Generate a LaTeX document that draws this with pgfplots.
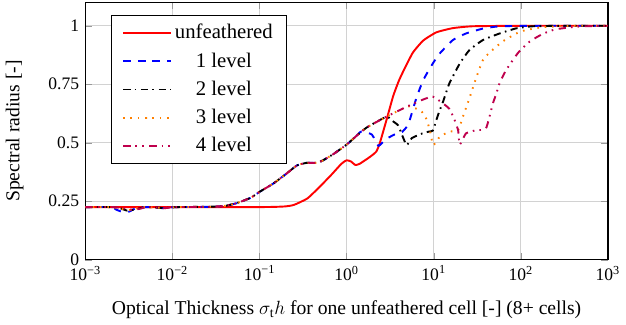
\documentclass[border=0pt]{standalone}
\usepackage{pgfplots}
\pgfplotsset{compat=1.18}
\usepackage{fontspec}
\setmainfont{Liberation Serif}
\definecolor{c4}{rgb}{0.75,0,0.3}
\begin{document}
\fontsize{11}{13}\selectfont
\begin{tikzpicture}
\begin{axis}[
  scale only axis,
  width=327.5pt, height=161.25pt,
  xmode=log, log basis x=10,
  xmin=1e-3, xmax=1e3,
  ymin=0, ymax=1.1,
  xtick={1e-3,1e-2,1e-1,1,1e1,1e2,1e3},
  xticklabels={10\textsuperscript{−3},10\textsuperscript{−2},10\textsuperscript{−1},10\textsuperscript{0},10\textsuperscript{1},10\textsuperscript{2},10\textsuperscript{3}},
  ytick={0,0.25,0.5,0.75,1},
  yticklabels={0,0.25,0.5,0.75,1},
  grid=major,
  major grid style={gray!35, line width=0.6pt},
  tick style={gray!80},
  axis line style={black, line width=0.8pt},
  label style={font=\fontsize{12.3}{14}\selectfont},
  xlabel={Optical Thickness $\sigma_{\mathrm{t}}h$ for one unfeathered cell [-] (8+ cells)},
  ylabel={Spectral radius [-]},
  ylabel shift=8pt,
  xlabel shift=5pt,
  legend cell align=center,
  legend style={at={(0.05,0.95)}, anchor=north west, draw=black, fill=white,
     font=\fontsize{13}{15}\selectfont, row sep=3pt, inner xsep=6.5pt, inner ysep=3.5pt},
  legend image code/.code={\draw[#1] plot coordinates {(0cm,0cm) (0.52cm,0cm) (1.05cm,0cm)};},
  every axis plot/.append style={line width=1.2pt},
  after end axis/.code={\path (rel axis cs:0,1) ++(0,1.5pt);},
]
% unfeathered
\addplot[red, solid, smooth, tension=0.3] coordinates {
(0.001,0.225) (0.1,0.225) (0.2,0.228) (0.251,0.235) (0.355,0.262) (0.501,0.315)
(0.676,0.365) (0.871,0.41) (1,0.425) (1.122,0.42) (1.259,0.405) (1.413,0.41)
(1.862,0.44) (2.188,0.462) (2.399,0.497) (2.884,0.60) (3.428,0.70) (3.981,0.765)
(4.467,0.805) (5.754,0.885) (7.586,0.937) (10.72,0.972) (16.6,0.99) (28.18,0.998)
(100,1.0) (1000,1.0)};
\addlegendentry{unfeathered}
% 1 level
\addplot[blue, dash pattern=on 4.5pt off 4.7pt, smooth, tension=0.3] coordinates {
(0.001,0.225) (0.002,0.225) (0.00224,0.215) (0.00263,0.205) (0.00316,0.205) (0.00355,0.215) (0.00398,0.222)
(0.005,0.225) (0.00708,0.222) (0.00794,0.22) (0.00891,0.222) (0.0112,0.225)
(0.0251,0.226) (0.0398,0.23) (0.055,0.242) (0.0794,0.265) (0.1,0.29) (0.1445,0.326)
(0.204,0.368) (0.269,0.403) (0.347,0.414) (0.457,0.414) (0.537,0.425) (0.708,0.452)
(1,0.492) (1.259,0.525) (1.479,0.548) (1.95,0.535) (2.317,0.487) (2.818,0.515)
(3.548,0.535) (4.169,0.54) (4.571,0.555) (5.129,0.58) (6.31,0.69) (7.586,0.768)
(9.772,0.839) (11.75,0.882) (16.6,0.939) (23.44,0.967) (36.73,0.988) (57.54,0.998)
(158.5,1.0) (1000,1.0)};
\addlegendentry{1 level}
% 2 level
\addplot[black, dash pattern=on 4.5pt off 2.8pt on 1pt off 2.8pt, smooth, tension=0.3] coordinates {
(0.001,0.225) (0.002,0.225) (0.00251,0.22) (0.00302,0.21) (0.0038,0.215) (0.00447,0.222)
(0.005,0.225) (0.00708,0.222) (0.00794,0.22) (0.00891,0.222) (0.0112,0.225)
(0.0251,0.226) (0.0398,0.23) (0.055,0.242) (0.0794,0.265) (0.1,0.29) (0.1445,0.326)
(0.204,0.368) (0.269,0.403) (0.347,0.414) (0.457,0.414) (0.537,0.425) (0.708,0.452)
(1,0.492) (1.259,0.525) (1.698,0.565) (2.884,0.612) (3.162,0.60) (3.89,0.575)
(4.365,0.53) (4.898,0.49) (5.623,0.52) (7.413,0.54) (8.913,0.548) (9.772,0.552)
(10.72,0.597) (11.75,0.64) (12.79,0.675) (15.14,0.754) (19.95,0.839) (25.7,0.896)
(36.73,0.939) (57.02,0.967) (88.51,0.989) (138,0.998) (316.2,1.0) (1000,1.0)};
\addlegendentry{2 level}
% 3 level
\addplot[orange, dash pattern=on 1pt off 3.6pt, smooth, tension=0.3] coordinates {
(0.001,0.225) (0.002,0.225) (0.00251,0.218) (0.00316,0.212) (0.00398,0.22) (0.0045,0.225)
(0.005,0.225) (0.00708,0.222) (0.00794,0.22) (0.00891,0.222) (0.0112,0.225)
(0.0251,0.226) (0.0398,0.23) (0.055,0.242) (0.0794,0.265) (0.1,0.29) (0.1445,0.326)
(0.204,0.368) (0.269,0.403) (0.347,0.414) (0.457,0.414) (0.537,0.425) (0.708,0.452)
(1,0.492) (1.259,0.525) (1.698,0.565) (2.884,0.612) (4.898,0.654) (5.248,0.656)
(6.918,0.64) (7.586,0.625) (8.318,0.598) (9.016,0.554) (9.886,0.49) (11.75,0.526)
(15.14,0.547) (19.05,0.554) (21.63,0.611) (25.7,0.69) (30.9,0.78) (36.73,0.853)
(43.65,0.885) (63.1,0.935) (100,0.976) (177.8,0.994) (398.1,1.0) (1000,1.0)};
\addlegendentry{3 level}
% 4 level
\addplot[c4, dash pattern=on 4.5pt off 3.2pt on 1pt off 3.2pt on 1pt off 3.5pt, smooth, tension=0.3] coordinates {
(0.001,0.225) (0.002,0.225) (0.00282,0.22) (0.00355,0.213) (0.00447,0.22) (0.005,0.225)
(0.00708,0.222) (0.00794,0.22) (0.00891,0.222) (0.0112,0.225)
(0.0251,0.226) (0.0398,0.23) (0.055,0.242) (0.0794,0.265) (0.1,0.29) (0.1445,0.326)
(0.204,0.368) (0.269,0.403) (0.347,0.414) (0.457,0.414) (0.537,0.425) (0.708,0.452)
(1,0.492) (1.259,0.525) (1.698,0.565) (2.884,0.612) (4.898,0.654) (7.586,0.685)
(9.772,0.697) (12.59,0.67) (15.14,0.645) (17.38,0.597) (19.05,0.554) (19.95,0.492)
(23.44,0.54) (30.9,0.554) (39.81,0.561) (47.86,0.668) (52.48,0.711) (57.02,0.754)
(67.61,0.81) (93.33,0.885) (125.9,0.932) (177.8,0.965) (251.2,0.985) (467.7,0.997) (1000,1.0)};
\addlegendentry{4 level}
\end{axis}
\end{tikzpicture}
\end{document}
